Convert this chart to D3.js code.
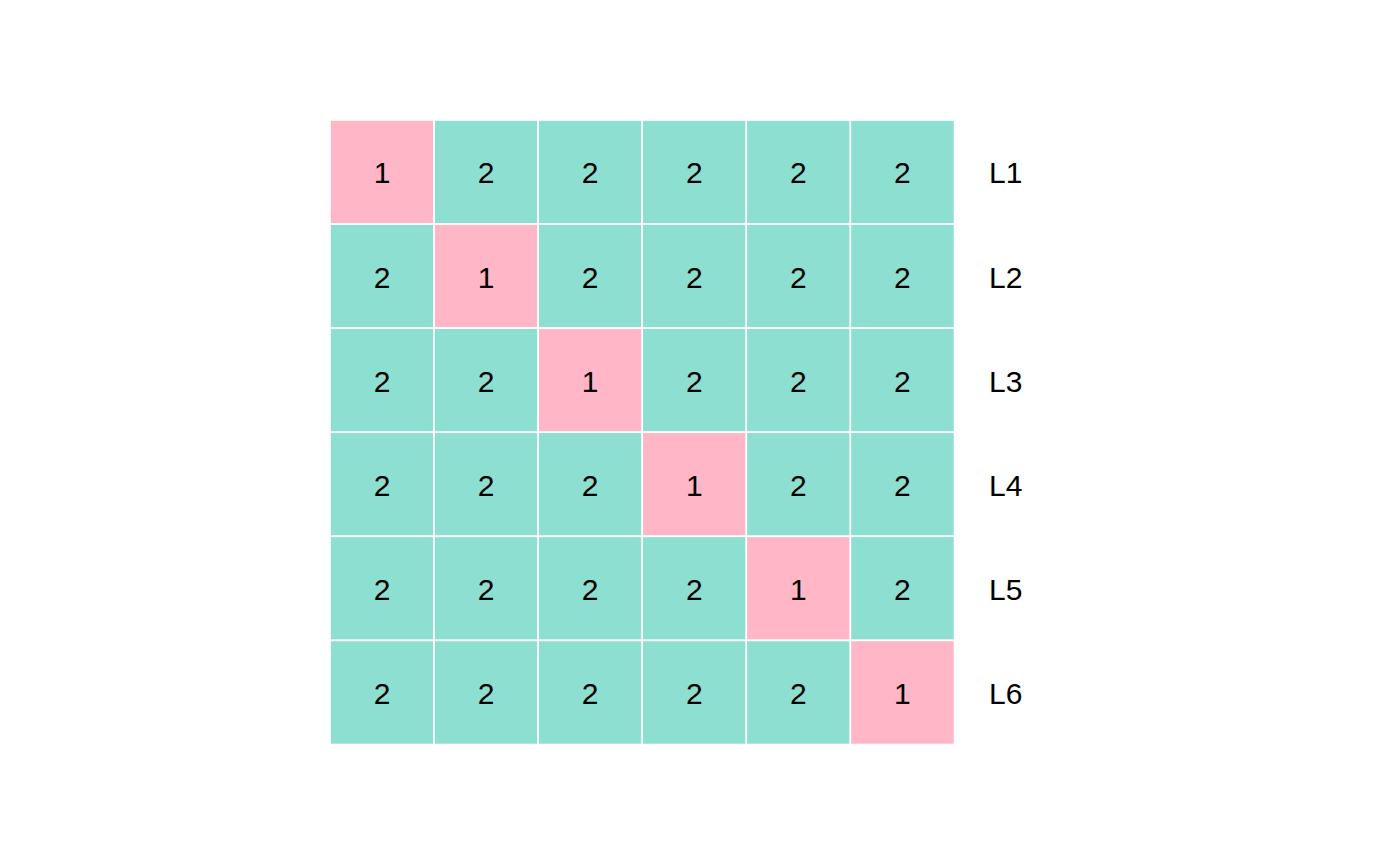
<!DOCTYPE html>
<html><head><meta charset="utf-8">
<script src="https://cdn.jsdelivr.net/npm/d3@7"></script>
<style>body{margin:0;background:#fff}</style>
</head><body>
<script>
const rows = ["L1","L2","L3","L4","L5","L6"];
const cols = ["C1","C2","C3","C4","C5","C6"];
const values = [
  [1,2,2,2,2,2],
  [2,1,2,2,2,2],
  [2,2,1,2,2,2],
  [2,2,2,1,2,2],
  [2,2,2,2,1,2],
  [2,2,2,2,2,1]
];
const colorKeys = [1,2];
const colorVals = ["#FFB6C7","#8DDFD1"];

const W=1400,H=865;
const svg=d3.select("body").append("svg").attr("width",W).attr("height",H);
const x=d3.scaleBand().domain(cols).range([330,954.5]);
const y=d3.scaleBand().domain(rows).range([120,744.5]);
const color=d3.scaleOrdinal().domain(colorKeys).range(colorVals);
const cells=[];
values.forEach((r,i)=>r.forEach((v,j)=>cells.push({r:rows[i],c:cols[j],v})));
svg.selectAll("rect.cell").data(cells).join("rect").attr("class","cell")
  .attr("x",d=>x(d.c)).attr("y",d=>y(d.r))
  .attr("width",x.bandwidth()).attr("height",y.bandwidth())
  .attr("fill",d=>color(d.v)).attr("stroke","#fff").attr("stroke-width",1.6);
svg.selectAll("text.val").data(cells).join("text").attr("class","val")
  .attr("x",d=>x(d.c)+x.bandwidth()/2).attr("y",d=>y(d.r)+y.bandwidth()/2)
  .attr("text-anchor","middle").attr("dy","0.38em")
  .attr("font-family","Liberation Sans, Arial, sans-serif").attr("font-size",30)
  .text(d=>d.v);
const yAxis=d3.axisRight(y).tickSize(0).tickPadding(0);
const g=svg.append("g").attr("transform","translate(989,0)").call(yAxis);
g.select(".domain").remove();
g.selectAll("text").attr("font-family","Liberation Sans, Arial, sans-serif").attr("font-size",30).attr("fill","#000").attr("dy","0.38em");
</script>
</body></html>
